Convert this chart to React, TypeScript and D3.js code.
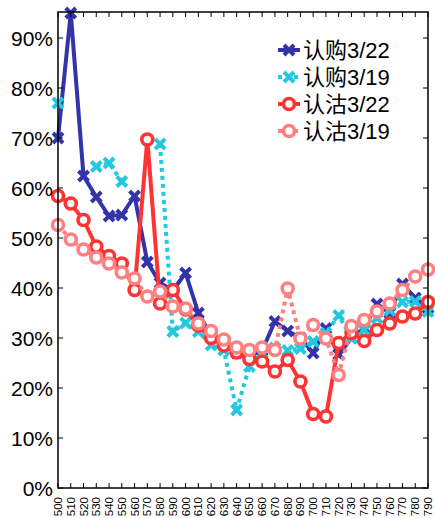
import React from "react";
import * as d3 from "d3";

const strikes = [500,510,520,530,540,550,560,570,580,590,600,610,620,630,640,650,660,670,680,690,700,710,720,730,740,750,760,770,780,790];
const call322 = [0.700,0.950,0.624,0.582,0.544,0.546,0.584,0.452,0.410,0.395,0.430,0.350,0.305,0.290,0.270,0.265,0.275,0.333,0.314,0.300,0.270,0.319,0.267,0.300,0.320,0.368,0.350,0.408,0.380,0.360];
const call319 = [0.770,null,null,0.643,0.650,0.613,null,null,0.688,0.313,0.330,0.313,0.286,0.276,0.156,0.243,0.270,0.280,0.275,0.279,0.293,0.310,0.345,0.300,0.316,0.340,0.355,0.372,0.373,0.353];
const put322 = [0.584,0.569,0.536,0.483,0.464,0.449,0.396,0.697,0.369,0.396,0.357,0.325,0.300,0.285,0.271,0.258,0.253,0.233,0.256,0.213,0.148,0.143,0.290,0.310,0.294,0.316,0.329,0.343,0.349,0.372];
const put319 = [0.526,0.497,0.477,0.461,0.449,0.431,0.419,0.383,0.393,0.363,0.359,0.329,0.314,0.297,0.281,0.276,0.281,0.276,0.399,0.299,0.326,0.299,0.226,0.324,0.336,0.353,0.369,0.396,0.423,0.437];
const yTicks = [0,0.1,0.2,0.3,0.4,0.5,0.6,0.7,0.8,0.9];
const seriesNames = ["认购3/22","认购3/19","认沽3/22","认沽3/19"];

const W = 435, H = 518;
const left = 58, right = 428, top = 12, bottom = 488;
const FONT = "'Liberation Sans', Arial, 'Noto Sans CJK SC', sans-serif";

type S = { name: string; values: (number|null)[]; color: string; dash?: string; marker: "x"|"o" };
const series: S[] = [
  { name: seriesNames[0], values: call322, color: "#3333aa", marker: "x" },
  { name: seriesNames[1], values: call319, color: "#22c8e0", dash: "4,4", marker: "x" },
  { name: seriesNames[2], values: put322, color: "#ff3333", marker: "o" },
  { name: seriesNames[3], values: put319, color: "#ff8080", dash: "4,4", marker: "o" },
];

function Marker({ type, cx, cy, color }: { type: "x"|"o"; cx: number; cy: number; color: string }) {
  if (type === "o") return <circle cx={cx} cy={cy} r={5.5} fill="#fff" stroke={color} strokeWidth={3.6} />;
  const s = 3.6;
  return (
    <g stroke={color} strokeWidth={4} strokeLinecap="square">
      <line x1={cx - s} y1={cy - s} x2={cx + s} y2={cy + s} />
      <line x1={cx - s} y1={cy + s} x2={cx + s} y2={cy - s} />
    </g>
  );
}

export default function App() {
  const x = d3.scaleLinear().domain([500, 790]).range([left, right]);
  const y = d3.scaleLinear().domain([0, 0.952]).range([bottom, top]);
  const line = d3.line<[number, number|null]>()
    .defined(d => d[1] !== null)
    .x(d => x(d[0]))
    .y(d => y(d[1] as number));

  const legendY = [50, 77, 104, 131];

  return (
    <svg width={W} height={H} style={{ position: "absolute", left: 0, top: 0, background: "#fff" }} fontFamily={FONT}>
      <rect x={0} y={0} width={W} height={H} fill="#fff" />
      {series.map((s, i) => {
        const pts = strikes.map((k, j) => [k, s.values[j]] as [number, number|null]);
        return (
          <g key={i}>
            <path d={line(pts) || ""} fill="none" stroke={s.color} strokeWidth={4} strokeDasharray={s.dash} strokeLinejoin="round" />
            {pts.filter(p => p[1] !== null).map((p, j) => (
              <Marker key={j} type={s.marker} cx={x(p[0])} cy={y(p[1] as number)} color={s.color} />
            ))}
          </g>
        );
      })}
      <rect x={left} y={top} width={right - left} height={bottom - top} fill="none" stroke="#000" strokeWidth={1.5} />
      {strikes.map((k, i) => (
        <g key={i}>
          <line x1={x(k)} x2={x(k)} y1={bottom} y2={bottom - 5} stroke="#000" strokeWidth={1} />
          <line x1={x(k)} x2={x(k)} y1={top} y2={top + 5} stroke="#000" strokeWidth={1} />
          <text transform={`translate(${x(k) + 4},${bottom + 9}) rotate(-90)`} textAnchor="end" fontSize={11.5} fill="#000">{k}</text>
        </g>
      ))}
      {yTicks.map((t, i) => (
        <g key={i}>
          <line x1={left} x2={left + 5} y1={y(t)} y2={y(t)} stroke="#000" strokeWidth={1} />
          <line x1={right} x2={right - 5} y1={y(t)} y2={y(t)} stroke="#000" strokeWidth={1} />
          <text x={left - 5} y={y(t) + 7.5} textAnchor="end" fontSize={21} fill="#000">{`${Math.round(t * 100)}%`}</text>
        </g>
      ))}
      {series.map((s, i) => (
        <g key={i}>
          <line x1={278} x2={300} y1={legendY[i]} y2={legendY[i]} stroke={s.color} strokeWidth={4} strokeDasharray={s.dash} />
          <Marker type={s.marker} cx={289} cy={legendY[i]} color={s.color} />
          <text x={303} y={legendY[i] + 8} fontSize={22} fill="#000">{s.name}</text>
        </g>
      ))}
    </svg>
  );
}
